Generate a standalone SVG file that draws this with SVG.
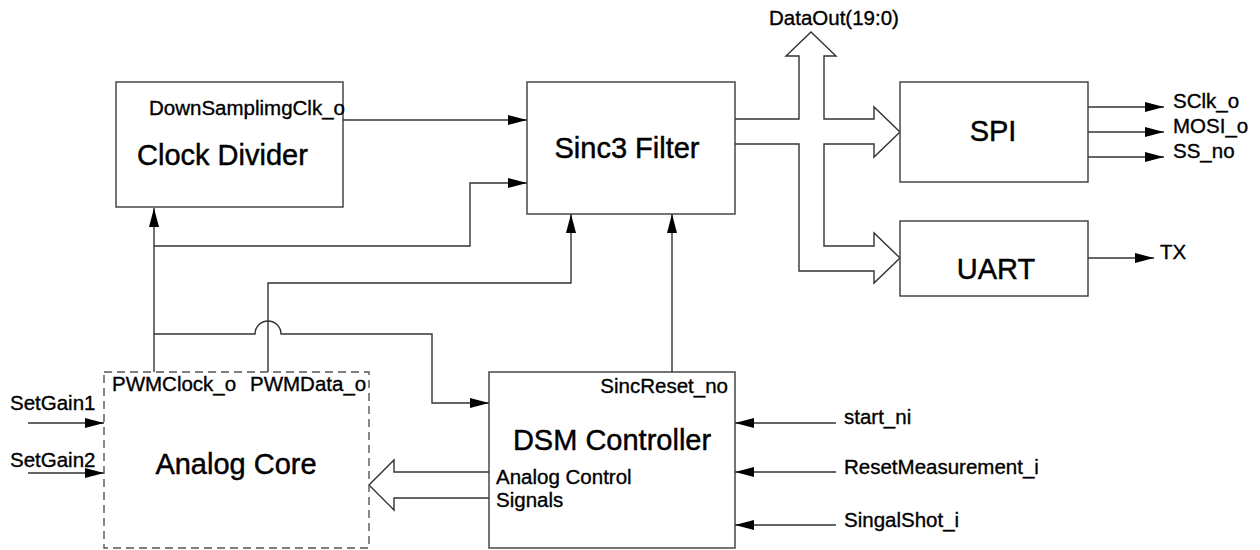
<svg xmlns="http://www.w3.org/2000/svg" width="1260" height="550" viewBox="0 0 1260 550">
  <style>
    .box { fill: #ffffff; stroke: #3a3a3a; stroke-width: 1.4; }
    .dash { fill: #ffffff; stroke: #555555; stroke-width: 1.4; stroke-dasharray: 8 5; }
    .wire { fill: none; stroke: #333333; stroke-width: 1.4; }
    .bus { fill: #ffffff; stroke: #333333; stroke-width: 1.4; stroke-linejoin: miter; }
    .sm { font-family: "Liberation Sans", Arial, sans-serif; font-size: 20.5px; fill: #000000; stroke: #000000; stroke-width: 0.35; }
    .lg { font-family: "Liberation Sans", Arial, sans-serif; font-size: 29px; fill: #000000; stroke: #000000; stroke-width: 0.45; }
  </style>
  <defs>
    <marker id="arr" markerUnits="userSpaceOnUse" markerWidth="20" markerHeight="11" refX="19" refY="5.5" orient="auto">
      <path d="M0,0.5 L19,5.5 L0,10.5 z" fill="#000000"/>
    </marker>
  </defs>

  <rect width="1260" height="550" fill="#ffffff"/>

  <g id="connectors">
    <!-- Clock divider to Sinc3 -->
    <path class="wire" d="M343,120 H527" marker-end="url(#arr)"/>
    <!-- PWMClock_o to clock divider -->
    <path class="wire" d="M154,372 V208" marker-end="url(#arr)"/>
    <!-- PWMClock_o branch to Sinc3 -->
    <path class="wire" d="M154,246 H470 V183 H527" marker-end="url(#arr)"/>
    <!-- PWMData_o to Sinc3 -->
    <path class="wire" d="M268,372 V283 H571 V214" marker-end="url(#arr)"/>
    <!-- PWMClock_o branch to DSM controller with hop -->
    <path class="wire" d="M154,334 H255 A13,13 0 0 1 281,334 H432 V403 H489" marker-end="url(#arr)"/>
    <!-- SincReset_no -->
    <path class="wire" d="M672,372 V214" marker-end="url(#arr)"/>
    <!-- SetGain inputs -->
    <path class="wire" d="M28,423 H104" marker-end="url(#arr)"/>
    <path class="wire" d="M28,473 H104" marker-end="url(#arr)"/>
    <!-- DSM inputs -->
    <path class="wire" d="M836,423 H735" marker-end="url(#arr)"/>
    <path class="wire" d="M836,472 H735" marker-end="url(#arr)"/>
    <path class="wire" d="M836,525 H735" marker-end="url(#arr)"/>
    <!-- SPI outputs -->
    <path class="wire" d="M1088,107 H1164" marker-end="url(#arr)"/>
    <path class="wire" d="M1088,132 H1164" marker-end="url(#arr)"/>
    <path class="wire" d="M1088,157 H1164" marker-end="url(#arr)"/>
    <!-- UART output -->
    <path class="wire" d="M1088,258 H1154" marker-end="url(#arr)"/>
    <!-- Data bus -->
    <path class="bus" d="M735,119 H799 V56 H786 L811,32 L836,56 H824 V119 H874 V107 L900,132 L874,157 V144 H824 V246 H874 V233 L900,258 L874,283 V271 H799 V144 H735"/>
    <!-- Analog control signals bus -->
    <path class="bus" d="M489,472 H394 V460 L369,485 L394,510 V498 H489"/>
  </g>

  <g id="clock-divider">
    <rect class="box" x="116" y="82" width="227" height="125"/>
    <text class="sm" x="149" y="115">DownSamplimgClk_o</text>
    <text class="lg" x="137" y="165">Clock Divider</text>
  </g>

  <g id="sinc3-filter">
    <rect class="box" x="527" y="82" width="208" height="132"/>
    <text class="lg" x="627" y="158" text-anchor="middle">Sinc3 Filter</text>
  </g>

  <g id="spi">
    <rect class="box" x="900" y="82" width="188" height="100"/>
    <text class="lg" x="993" y="141" text-anchor="middle">SPI</text>
  </g>

  <g id="uart">
    <rect class="box" x="900" y="221" width="188" height="75"/>
    <text class="lg" x="996" y="279" text-anchor="middle">UART</text>
  </g>

  <g id="analog-core">
    <rect class="dash" x="104" y="372" width="265" height="176"/>
    <text class="sm" x="112" y="391">PWMClock_o</text>
    <text class="sm" x="250" y="391">PWMData_o</text>
    <text class="lg" x="236" y="474" text-anchor="middle">Analog Core</text>
  </g>

  <g id="dsm-controller">
    <rect class="box" x="489" y="372" width="246" height="176"/>
    <text class="sm" x="728" y="393" text-anchor="end">SincReset_no</text>
    <text class="lg" x="612" y="450" text-anchor="middle">DSM Controller</text>
    <text class="sm" x="496" y="484">Analog Control</text>
    <text class="sm" x="496" y="507">Signals</text>
  </g>

  <g id="ports">
    <text class="sm" x="769" y="25">DataOut(19:0)</text>
    <text class="sm" x="1173" y="108">SClk_o</text>
    <text class="sm" x="1173" y="133">MOSI_o</text>
    <text class="sm" x="1173" y="158">SS_no</text>
    <text class="sm" x="1160" y="259">TX</text>
    <text class="sm" x="10" y="410">SetGain1</text>
    <text class="sm" x="10" y="467">SetGain2</text>
    <text class="sm" x="844" y="424">start_ni</text>
    <text class="sm" x="844" y="474">ResetMeasurement_i</text>
    <text class="sm" x="844" y="527">SingalShot_i</text>
  </g>
</svg>
